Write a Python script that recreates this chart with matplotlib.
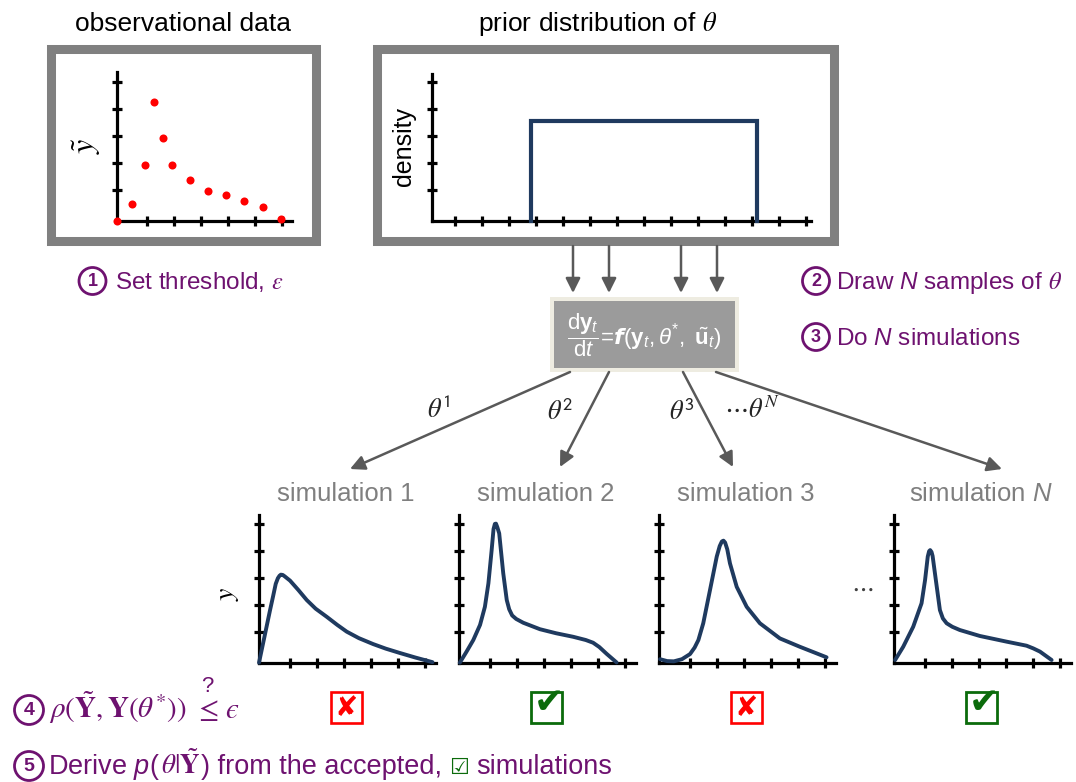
import numpy as np
import matplotlib
matplotlib.use("Agg")
import matplotlib.pyplot as plt
from matplotlib.patches import Rectangle, Circle
from matplotlib.mathtext import MathTextParser

plt.rcParams['font.family'] = ['Liberation Sans', 'DejaVu Sans']
plt.rcParams['mathtext.fontset'] = 'stix'
plt.rcParams['mathtext.rm'] = 'Liberation Sans'
plt.rcParams['mathtext.it'] = 'Liberation Sans:italic'
plt.rcParams['mathtext.bf'] = 'Liberation Sans:bold'
plt.rcParams['mathtext.sf'] = 'Liberation Sans'

# ---------------- data ----------------
obs_t = [0, 0.56, 1.04, 1.37, 1.71, 2.05, 2.71, 3.38, 4.05, 4.73, 5.41, 6.07]
obs_y = [0, 0.62, 2.05, 4.41, 3.06, 2.05, 1.51, 1.10, 0.95, 0.72, 0.51, 0.05]

prior_bounds = [3.68, 12.04]
prior_density = 3.69

sim1_t = [0, 0.2, 0.41, 0.52, 0.62, 0.7, 0.76, 0.81, 0.88, 0.95, 1.15, 1.46, 1.77, 2.1, 2.51,
          2.9, 3.25, 3.7, 4.23, 4.7, 5.22, 5.8, 6.43]
sim1_y = [0, 0.95, 1.95, 2.45, 2.92, 3.13, 3.22, 3.26, 3.25, 3.20, 3.04, 2.69, 2.32, 2.0, 1.70,
          1.40, 1.15, 0.91, 0.69, 0.52, 0.36, 0.19, 0.02]

sim2_t = [0.03, 0.28, 0.53, 0.78, 0.96, 1.09, 1.21, 1.28, 1.33, 1.37, 1.42, 1.49, 1.64, 1.77,
          1.86, 1.97, 2.12, 2.38, 3.0, 3.6, 4.23, 4.7, 4.97, 5.2, 5.47, 5.84]
sim2_y = [0.0, 0.41, 0.84, 1.40, 2.07, 2.94, 4.17, 4.95, 5.14, 5.15, 5.02, 4.79, 3.31, 2.32,
          1.98, 1.75, 1.62, 1.48, 1.24, 1.09, 0.96, 0.84, 0.74, 0.58, 0.33, 0.01]

sim3_t = [0.04, 0.3, 0.55, 0.85, 1.15, 1.32, 1.46, 1.64, 1.89, 2.14, 2.25, 2.33, 2.39, 2.45,
          2.53, 2.63, 2.88, 3.25, 3.74, 4.48, 5.22, 6.21]
sim3_y = [0.13, 0.06, 0.05, 0.13, 0.32, 0.56, 0.84, 1.46, 2.69, 3.93, 4.32, 4.49, 4.52, 4.45,
          4.20, 3.68, 2.81, 2.07, 1.46, 0.90, 0.59, 0.20]

simN_t = [0.03, 0.33, 0.70, 1.01, 1.14, 1.24, 1.29, 1.33, 1.38, 1.42, 1.54, 1.69, 1.80, 1.94,
          2.15, 2.43, 3.17, 4.16, 4.90, 5.15, 5.40, 5.83]
simN_y = [0.10, 0.59, 1.33, 2.20, 3.06, 3.93, 4.13, 4.17, 4.10, 3.95, 3.06, 1.95, 1.64, 1.46,
          1.33, 1.21, 0.99, 0.78, 0.63, 0.53, 0.41, 0.10]

sim_t = [sim1_t, sim2_t, sim3_t, simN_t]
sim_y = [sim1_y, sim2_y, sim3_y, simN_y]
sim_titles = ['simulation 1', 'simulation 2', 'simulation 3', r'simulation $\mathit{N}$']
sim_accepted = [False, True, False, True]
theta_labels = [r'$\theta^{\mathsf{1}}$', r'$\theta^{\mathsf{2}}$', r'$\theta^{\mathsf{3}}$',
                r'$\cdots\theta^{N}$']

panel_titles = ['observational data', r'prior distribution of $\theta$']

# ---------------- styles ----------------
W, H = 1076, 782
PURPLE = '#6E1270'
NAVY = '#1F3A5F'
FRAME = '#808080'
ARROW = '#595959'
GREEN = '#0B6B0B'

fig = plt.figure(figsize=(W / 100, H / 100), dpi=100)
ax0 = fig.add_axes([0, 0, 1, 1])
ax0.set_xlim(0, W)
ax0.set_ylim(H, 0)
ax0.axis('off')
renderer = fig.canvas.get_renderer()


def px_axes(left, top, right, bottom):
    return fig.add_axes([left / W, 1 - bottom / H, (right - left) / W, (bottom - top) / H])


def style_axes(ax, xmax, ymax, xticks, yticks):
    ax.set_xlim(0, xmax)
    ax.set_ylim(0, ymax)
    ax.patch.set_alpha(0)
    for s in ['top', 'right']:
        ax.spines[s].set_visible(False)
    for s in ['left', 'bottom']:
        ax.spines[s].set_linewidth(2.3)
        ax.spines[s].set_color('black')
    ax.set_xticks(xticks)
    ax.set_yticks(yticks)
    ax.tick_params(direction='inout', length=6.5, width=2.3, color='black',
                   labelbottom=False, labelleft=False)


def ok_math(s):
    try:
        MathTextParser('path').parse(s, prop=matplotlib.font_manager.FontProperties())
        return True
    except Exception:
        return False


def text_after(prev, s, gap=4, **kw):
    bb = prev.get_window_extent(renderer)
    y = prev.get_position()[1]
    return ax0.text(bb.x1 + gap, y, s, va='baseline', **kw)


def circled(cx, cy, n, r=13.5, fs=13):
    ax0.add_patch(Circle((cx, cy), r, fill=False, ec=PURPLE, lw=2.0))
    ax0.text(cx, cy + 0.5, str(n), ha='center', va='center', fontsize=fs,
             fontweight='bold', color=PURPLE)


# ---------------- frames ----------------
ax0.add_patch(Rectangle((50.5, 48.5), 265, 192, fill=False, ec=FRAME, lw=6.5))
ax0.add_patch(Rectangle((377, 48.5), 457, 192, fill=False, ec=FRAME, lw=6.5))
ax0.text(183, 24, panel_titles[0], ha='center', va='center', fontsize=19, color='black')
ax0.text(598, 24, panel_titles[1], ha='center', va='center', fontsize=19, color='black')

# observational data panel
axo = px_axes(116.7, 72, 292, 220.7)
style_axes(axo, 6.49, 5.51, np.arange(1.11, 6.2, 1.0), np.arange(1.15, 5.2, 1.0))
axo.plot(obs_t, obs_y, 'o', color='#FF0000', ms=5.8, mec='none', clip_on=False, zorder=5)
ax0.text(87, 146, r'$\tilde{y}$', rotation=90, ha='center', va='center', fontsize=23)

# prior panel
axp = px_axes(431.7, 74, 810.7, 220.7)
style_axes(axp, 14.04, 5.44, np.arange(0.86, 14.0, 1.0), np.arange(1.15, 5.2, 1.0))
a, b = prior_bounds
axp.plot([a, a, b, b], [0, prior_density, prior_density, 0], color=NAVY, lw=3.0,
         solid_joinstyle='miter', clip_on=False, zorder=4)
ax0.text(404, 147, 'density', rotation=90, ha='center', va='center', fontsize=18)

# ---------------- arrows from prior to equation ----------------
for x in [573, 609, 681, 717]:
    ax0.annotate('', xy=(x, 293), xytext=(x, 246),
                 arrowprops=dict(arrowstyle='-|>', color=ARROW, lw=1.8,
                                 mutation_scale=22, shrinkA=0, shrinkB=0))

# ---------------- equation box ----------------
ax0.add_patch(Rectangle((550, 297), 189, 75, fc='#EEECE1', ec='none'))
ax0.add_patch(Rectangle((554, 301), 181, 67, fc='#9B9B9B', ec='none'))
f_sym = r'\mathbfit{f}' if ok_math(r'$\mathbfit{f}$') else r'\mathit{f}'
frac = r'\dfrac' if ok_math(r'$\dfrac{a}{b}$') else r'\frac'
eq = (r'$' + frac + r'{\mathrm{d}\mathbf{y}_t}{\mathrm{d}t}\!=\!' + f_sym +
      r'(\mathbf{y}_t, \theta^{*},\ \tilde{\mathbf{u}}_t)$')
ax0.text(644, 335, eq, ha='center', va='center', fontsize=16, color='white',
         math_fontfamily='custom')

# ---------------- step labels ----------------
circled(92.5, 281, 1)
ax0.text(115, 289, r'Set threshold, $\varepsilon$', va='baseline', fontsize=17.5, color=PURPLE)

circled(816, 281, 2)
t2 = ax0.text(836, 289, r'Draw $\mathit{N}$ samples of', va='baseline', fontsize=17.5,
              color=PURPLE, math_fontfamily='custom')
text_after(t2, r'$\theta$', gap=5, fontsize=17.5, color=PURPLE)

circled(816, 337, 3)
ax0.text(836, 345, r'Do $\mathit{N}$ simulations', va='baseline', fontsize=17.5,
         color=PURPLE, math_fontfamily='custom')

circled(29, 710, 4, r=14.5, fs=14)
t4 = ax0.text(49, 718, r'$\rho(\tilde{\mathbf{Y}}, \mathbf{Y}(\theta^{*}))$', va='baseline',
              fontsize=21, color=PURPLE)
t4b = text_after(t4, r'$\leq$', gap=7, fontsize=21, color=PURPLE)
bb = t4b.get_window_extent(renderer)
ax0.text((bb.x0 + bb.x1) / 2 + 2, 692, '?', ha='center', va='baseline', fontsize=16,
         color=PURPLE)
text_after(t4b, '$\u03f5$', gap=7, fontsize=21, color=PURPLE)

circled(29, 766, 5, r=14.5, fs=14)
t5 = ax0.text(48, 774, r'Derive $\mathit{p}$(', va='baseline', fontsize=19.5, color=PURPLE,
              math_fontfamily='custom')
t5a = text_after(t5, r'$\theta|\tilde{\mathbf{Y}}$', gap=1, fontsize=19.5, color=PURPLE)
t5c = text_after(t5a, ') from the accepted,', gap=1, fontsize=19.5, color=PURPLE)
t5b = text_after(t5c, '\u2611', gap=7, fontsize=16, color=GREEN, family='DejaVu Sans')
text_after(t5b, 'simulations', gap=7, fontsize=19.5, color=PURPLE)

# ---------------- simulations ----------------
sim_x0 = [259, 459, 659, 894.3]
eq_starts = [(570, 372), (609, 372), (683, 372), (716, 372)]
tips = [(350, 469), (560, 467), (733, 467), (1002, 469)]
for i in range(4):
    x0 = sim_x0[i]
    ax = px_axes(x0, 515, x0 + 177, 662.7)
    style_axes(ax, 6.56, 5.47, np.arange(1.15, 6.3, 1.0), np.arange(1.15, 5.2, 1.0))
    ax.plot(sim_t[i], sim_y[i], color=NAVY, lw=2.8, solid_capstyle='round',
            solid_joinstyle='round', clip_on=False, zorder=4)
    cx = x0 + 87
    ax0.text(cx, 494, sim_titles[i], ha='center', va='center', fontsize=18.5, color='#7F7F7F',
             math_fontfamily='custom')
    ax0.annotate('', xy=tips[i], xytext=eq_starts[i],
                 arrowprops=dict(arrowstyle='-|>', color=ARROW, lw=1.8,
                                 mutation_scale=22, shrinkA=0, shrinkB=0))
    # accept / reject boxes
    if sim_accepted[i]:
        ax0.add_patch(Rectangle((cx - 15.5, 692), 31, 31, fill=False, ec=GREEN, lw=2.0))
        ax0.text(cx + 3, 703, '\u2714', ha='center', va='center', fontsize=26,
                 color=GREEN, family='DejaVu Sans')
    else:
        ax0.add_patch(Rectangle((cx - 15.5, 692), 31, 31, fc='white', ec='#FF0000', lw=1.9))
        ax0.text(cx, 708, '\u2718', ha='center', va='center', fontsize=20,
                 color='#FF0000', family='DejaVu Sans')

ax0.text(228, 594, r'$y$', rotation=90, ha='center', va='center', fontsize=20)
ax0.text(862, 588, r'$\cdots$', ha='center', va='center', fontsize=18, color='#404040')

label_pos = [(439, 410), (560, 412), (682, 412), (752, 410)]
for (x, y), s in zip(label_pos, theta_labels):
    ax0.text(x, y, s, ha='center', va='center', fontsize=19, color='#262626')

fig.savefig('out.png', dpi=100)
